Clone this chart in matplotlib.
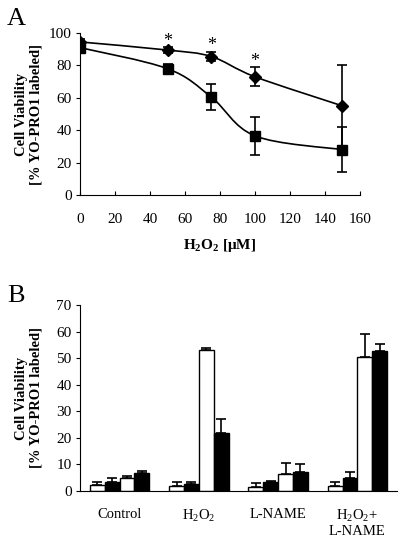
import matplotlib
matplotlib.use("Agg")
import matplotlib.pyplot as plt
import numpy as np
from matplotlib.path import Path
from matplotlib.patches import PathPatch

plt.rcParams['font.family'] = ['Liberation Serif', 'DejaVu Serif']
plt.rcParams['mathtext.fontset'] = 'custom'
plt.rcParams['mathtext.rm'] = 'Liberation Serif'
plt.rcParams['mathtext.bf'] = 'Liberation Serif:bold'
plt.rcParams['mathtext.default'] = 'regular'

# ---- Panel A data ----
conc = [0, 50, 75, 100, 150]
diamond_vals = [94.5, 89.5, 85.5, 73, 55]
diamond_err = [2, 2, 3, 6, 25]
square_vals = [91, 78, 60.5, 36.5, 28]
square_err = [3, 3, 8, 11.5, 14]
star_x = [50, 75, 100]

# ---- Panel B data ----
groups = ['Control', 'H$_2$O$_2$', 'L-NAME', 'H$_2$O$_2$+\nL-NAME']
bar1 = [2.3, 1.9, 1.5, 1.8]
bar1_err = [1.0, 1.6, 1.4, 1.6]
bar2 = [3.3, 2.7, 3.5, 5.0]
bar2_err = [1.5, 0.8, 0.2, 2.0]
bar3 = [4.8, 53.0, 6.5, 50.5]
bar3_err = [1.0, 0.7, 4.0, 8.5]
bar4 = [6.6, 21.8, 7.0, 52.6]
bar4_err = [0.9, 5.2, 3.3, 2.8]

fig = plt.figure(figsize=(4.0, 5.38), dpi=100)


def smooth_path(xs, ys):
    pts = np.column_stack([xs, ys]).astype(float)
    n = len(pts)
    verts = [pts[0]]
    codes = [Path.MOVETO]
    for i in range(n - 1):
        p0 = pts[i - 1] if i > 0 else pts[i]
        p1 = pts[i]
        p2 = pts[i + 1]
        p3 = pts[i + 2] if i + 2 < n else pts[i + 1]
        c1 = p1 + (p2 - p0) / 6.0
        c2 = p2 - (p3 - p1) / 6.0
        verts += [c1, c2, p2]
        codes += [Path.CURVE4] * 3
    return Path(verts, codes)


axA = fig.add_axes([0.2, 0.6375, 0.7, 0.3011])
for vals, errs, mk, ms in [(diamond_vals, diamond_err, 'D', 6.5),
                           (square_vals, square_err, 's', 7.0)]:
    axA.add_patch(PathPatch(smooth_path(conc, vals), facecolor='none',
                            edgecolor='black', lw=1.2, zorder=2))
    axA.errorbar(conc, vals, yerr=errs, fmt='none', ecolor='black',
                 elinewidth=1.2, capsize=3.6, capthick=1.2, zorder=3)
    axA.plot(conc, vals, linestyle='none', marker=mk, ms=ms, color='black',
             zorder=4)
for sx in star_x:
    i = conc.index(sx)
    axA.annotate('*', (sx, diamond_vals[i] + diamond_err[i]),
                 xytext=(0, -2), textcoords='offset points', ha='center',
                 va='bottom', fontsize=13)
axA.set_xlim(0, 160)
axA.set_ylim(0, 100)
axA.set_xticks(range(0, 161, 20))
axA.set_yticks(range(0, 101, 20))
axA.spines['top'].set_visible(False)
axA.spines['right'].set_visible(False)
axA.tick_params(axis='x', direction='in', length=3, labelsize=11, pad=13)
axA.tick_params(axis='y', direction='out', length=3, labelsize=11, pad=3)
axA.set_xlabel('H$_2$O$_2$ [μM]', fontsize=11, fontweight='bold', labelpad=8)
axA.set_ylabel('Cell Viability\n[% YO-PRO1 labeled]', fontsize=10.5,
               fontweight='bold', linespacing=1.15)
axA.yaxis.set_label_coords(-38 / 280, 0.5)
fig.text(0.018, 0.985, 'A', fontsize=19, va='top', ha='left')

axB = fig.add_axes([0.2, 0.0874, 0.7925, 0.3457])
x = np.arange(len(groups)) + 0.5
w = 0.1875
offs = [-1.5 * w, -0.5 * w, 0.5 * w, 1.5 * w]
series = [(bar1, bar1_err, 'white'), (bar2, bar2_err, 'black'),
          (bar3, bar3_err, 'white'), (bar4, bar4_err, 'black')]
for (vals, errs, col), o in zip(series, offs):
    axB.bar(x + o, vals, width=w, color=col, edgecolor='black', lw=1.0,
            yerr=[np.zeros(len(errs)), errs],
            error_kw=dict(ecolor='black', elinewidth=1.2, capsize=3.6,
                          capthick=1.2))
axB.set_xlim(0, 4)
axB.set_ylim(0, 70)
axB.set_yticks(range(0, 71, 10))
axB.set_xticks(x)
axB.set_xticklabels(groups)
axB.spines['top'].set_visible(False)
axB.spines['right'].set_visible(False)
axB.tick_params(axis='x', length=0, labelsize=10.5, pad=12)
axB.tick_params(axis='y', direction='out', length=3, labelsize=11, pad=3)
for lab in axB.get_xticklabels():
    lab.set_verticalalignment('top')
    lab.set_linespacing(1.1)
axB.set_ylabel('Cell Viability\n[% YO-PRO1 labeled]', fontsize=10.5,
               fontweight='bold', linespacing=1.15)
axB.yaxis.set_label_coords(-38 / 317, 0.5)
fig.text(0.018, 0.47, 'B', fontsize=19, va='top', ha='left')

fig.savefig('out.png', dpi=100)
